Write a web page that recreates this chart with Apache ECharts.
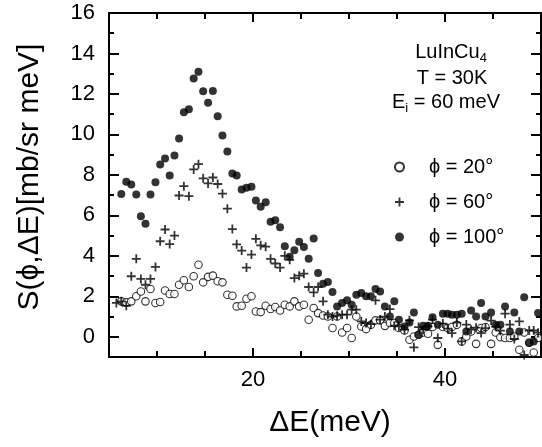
<!DOCTYPE html>
<html>
<head>
<meta charset="utf-8">
<script src="https://cdn.jsdelivr.net/npm/echarts@6/dist/echarts.min.js"></script>
<style>
  html, body { margin: 0; padding: 0; background: #fff; }
  #chart { width: 542px; height: 447px; }
</style>
</head>
<body>
<div id="chart"></div>
<script>
// Energy transfer bins (meV)
const energy = [
  5.77, 6.28, 6.80, 7.32, 7.84, 8.32, 8.80, 9.32, 9.84, 10.33,
  10.84, 11.32, 11.82, 12.30, 12.80, 13.32, 13.82, 14.32, 14.81, 15.32,
  15.82, 16.32, 16.82, 17.33, 17.85, 18.30, 18.82, 19.32, 19.84, 20.30,
  20.80, 21.32, 21.83, 22.32, 22.82, 23.31, 23.82, 24.31, 24.81, 25.30,
  25.80, 26.32, 26.78, 27.30, 27.80, 28.28, 28.76, 29.28, 29.80, 30.28,
  30.76, 31.28, 31.78, 32.28, 32.76, 33.24, 33.74, 34.26, 34.72, 35.20,
  35.78, 36.30, 36.76, 37.25, 37.72, 38.23, 38.70, 39.25, 39.78, 40.28,
  40.72, 41.24, 41.74, 42.22, 42.72, 43.24, 43.76, 44.22, 44.80, 45.28,
  45.77, 46.26, 46.76, 47.22, 47.74, 48.25, 48.77, 49.24, 49.70
];

// S(phi, dE) in mb/sr meV for each scattering angle
const phi20 = [
  null, 1.75, 1.70, 1.75, 2.00, 2.24, 1.75, 2.36, 1.67, 1.72,
  2.29, 2.11, 2.11, 2.57, 2.79, 2.46, 2.99, 3.56, 2.69, 2.96,
  3.02, 2.74, 2.69, 2.08, 2.03, 1.50, 1.53, 1.88, 2.00, 1.25,
  1.22, 1.53, 1.37, 1.47, 1.30, 1.58, 1.50, 1.75, 1.50, 1.58,
  0.84, 1.42, 1.17, 1.05, 1.00, 0.43, 1.00, 0.21, 0.43, -0.06,
  1.00, 0.51, 0.38, 0.59, 0.81, 0.81, 0.54, 0.68, 0.68, 0.43,
  0.31, -0.15, 0.01, 0.10, 0.21, 0.15, 0.48, -0.40, 0.48, 0.43,
  0.48, 0.59, -0.23, 0.01, 0.26, -0.35, 0.43, 0.48, -0.35, 0.21,
  -0.02, -0.06, -0.06, 0.01, -0.64, 0.21, -0.28, -0.78, -0.06
];
const phi60 = [
  1.67, 1.75, 1.53, 2.99, 3.85, 2.86, 2.57, 2.86, 3.45, 4.72,
  5.30, 4.58, 5.00, 6.98, 7.44, 6.95, 8.27, 8.53, 7.83, 7.58,
  7.87, 7.55, 7.07, 6.33, 5.32, 4.57, 4.26, 3.42, 4.06, 4.84,
  4.52, 4.45, 3.85, 3.62, 3.42, 4.00, 3.80, 2.90, 3.02, 3.12,
  2.46, 2.19, 2.46, 1.75, 1.09, 1.00, 1.04, 1.09, 1.09, 1.34,
  1.34, 0.76, 0.68, 0.62, 1.80, 0.85, 1.00, 1.37, 0.55, 0.51,
  0.35, 0.81, -0.52, 0.48, 0.35, 0.51, 0.85, -0.06, 0.65, 0.40,
  0.18, 0.70, -0.23, 0.60, 0.35, 0.45, 0.18, 0.43, 0.80, 0.50,
  0.30, 1.14, 0.60, -0.11, 0.76, -0.90, 0.31, 0.31, 0.20
];
const phi100 = [
  null, 7.06, 7.66, 7.52, 7.03, 5.96, 5.59, 7.03, 7.64, 8.51,
  8.81, 7.97, 8.96, 9.80, 11.10, 11.24, 12.76, 13.10, 12.13, 11.57,
  12.14, 10.90, 9.95, 9.16, 8.07, 7.97, 7.28, 7.36, 7.41, 6.73,
  6.42, 6.65, 5.68, 5.76, 5.41, 4.47, 3.95, 4.27, 4.69, 4.44,
  3.85, 4.85, 3.15, 2.62, 2.71, 2.21, 1.50, 1.67, 1.80, 1.58,
  2.08, 2.16, 2.00, 2.00, 2.36, 2.24, 1.50, 1.00, 1.75, 0.84,
  0.51, 0.71, 1.20, 0.10, 0.54, 0.54, 0.97, 0.59, 1.14, 1.14,
  1.09, 1.09, 1.14, 0.26, 1.30, 1.00, 1.67, 1.00, 1.20, 0.59,
  0.59, 1.50, 0.26, 1.20, 0.26, 1.95, -0.31, -0.23, 1.17
];

const seriesNames = ['\u03d5 = 20\u00b0', '\u03d5 = 60\u00b0', '\u03d5 = 100\u00b0'];

// Tick positions
const xMajorTicks = [20, 40];
const xMinorTicks = [10, 15, 25, 30, 35, 45];
const yMajorTicks = [0, 2, 4, 6, 8, 10, 12, 14, 16];
const yMinorTicks = [1, 3, 5, 7, 9, 11, 13, 15];

const FONT = '"Liberation Sans", Arial, Helvetica, "DejaVu Sans", sans-serif';
const X_MIN = 5, X_MAX = 50, Y_MIN = -1, Y_MAX = 16;

function pairs(values) {
  const out = [];
  values.forEach((v, i) => { if (v !== null) out.push([energy[i], v]); });
  return out;
}

const gridRect = { left: 109, top: 13, right: 1, bottom: 90, containLabel: false };
const lineStyle = { color: '#000', width: 2 };

function xAxisDef(gridIndex, position, ticks, len, withLine, withLabels) {
  return {
    type: 'value', gridIndex, position, min: X_MIN, max: X_MAX,
    axisLine: { show: withLine, onZero: false, lineStyle },
    axisTick: { show: true, inside: true, length: len, customValues: ticks, lineStyle: { color: '#000', width: 2 } },
    axisLabel: withLabels
      ? { show: true, customValues: ticks, margin: 12, fontSize: 22, color: '#000', fontFamily: FONT }
      : { show: false },
    splitLine: { show: false }
  };
}
function yAxisDef(gridIndex, position, ticks, len, withLine, withLabels) {
  return {
    type: 'value', gridIndex, position, min: Y_MIN, max: Y_MAX,
    axisLine: { show: withLine, onZero: false, lineStyle },
    axisTick: { show: true, inside: true, length: len, customValues: ticks, lineStyle: { color: '#000', width: 2 } },
    axisLabel: withLabels
      ? { show: true, customValues: ticks, margin: 14, fontSize: 22, color: '#000', fontFamily: FONT }
      : { show: false },
    splitLine: { show: false }
  };
}

const xBottom = xAxisDef(0, 'bottom', xMajorTicks, 9, true, true);
xBottom.name = '\u0394E(meV)';
xBottom.nameLocation = 'middle';
xBottom.nameGap = 51;
xBottom.nameTextStyle = { fontSize: 30, color: '#000', fontFamily: FONT, padding: [0, 0, 0, 10] };

const yLeft = yAxisDef(0, 'left', yMajorTicks, 10, true, true);
yLeft.name = 'S(\u03d5,\u0394E)[mb/sr meV]';
yLeft.nameLocation = 'middle';
yLeft.nameGap = 64;
yLeft.nameTextStyle = { fontSize: 30, color: '#000', fontFamily: FONT, padding: [0, 0, 0, 16] };

// Cross-shaped marker drawn as a filled outline
const plusSymbol = 'path://M4,0 L6,0 L6,4 L10,4 L10,6 L6,6 L6,10 L4,10 L4,6 L0,6 L0,4 L4,4 Z';

const option = {
  backgroundColor: '#fff',
  animation: false,
  grid: [Object.assign({}, gridRect), Object.assign({}, gridRect)],
  xAxis: [
    xBottom,
    xAxisDef(0, 'top', xMajorTicks, 9, true, false),
    xAxisDef(1, 'bottom', xMinorTicks, 6, false, false),
    xAxisDef(1, 'top', xMinorTicks, 6, false, false)
  ],
  yAxis: [
    yLeft,
    yAxisDef(0, 'right', yMajorTicks, 10, true, false),
    yAxisDef(1, 'left', yMinorTicks, 5, false, false),
    yAxisDef(1, 'right', yMinorTicks, 5, false, false)
  ],
  legend: {
    orient: 'vertical', left: 389, top: 151,
    itemWidth: 9, itemHeight: 9, itemGap: 13,
    data: seriesNames,
    selectedMode: false,
    textStyle: { fontSize: 20, color: '#000', fontFamily: FONT, lineHeight: 22, padding: [0, 0, 0, 20] }
  },
  graphic: [
    {
      type: 'text', x: 451, y: 39,
      style: {
        text: 'LuInCu{s|4}', fill: '#000', fontSize: 20, fontFamily: FONT, lineHeight: 26,
        align: 'center', verticalAlign: 'top',
        rich: { s: { fontSize: 13, fontFamily: FONT, lineHeight: 14, verticalAlign: 'bottom', fill: '#000' } }
      }
    },
    {
      type: 'text', x: 452, y: 65,
      style: { text: 'T = 30K', fill: '#000', fontSize: 20, fontFamily: FONT, lineHeight: 26, align: 'center', verticalAlign: 'top' }
    },
    {
      type: 'text', x: 446, y: 89,
      style: {
        text: 'E{s|i} = 60 meV', fill: '#000', fontSize: 20, fontFamily: FONT, lineHeight: 26,
        align: 'center', verticalAlign: 'top',
        rich: { s: { fontSize: 13, fontFamily: FONT, lineHeight: 14, verticalAlign: 'bottom', fill: '#000' } }
      }
    }
  ],
  series: [
    {
      name: seriesNames[0], type: 'scatter', xAxisIndex: 0, yAxisIndex: 0,
      symbol: 'circle', symbolSize: 7.5,
      itemStyle: { color: '#fff', borderColor: '#000', borderWidth: 1.1 },
      data: pairs(phi20)
    },
    {
      name: seriesNames[1], type: 'scatter', xAxisIndex: 0, yAxisIndex: 0,
      symbol: plusSymbol, symbolSize: 9,
      itemStyle: { color: '#000' },
      data: pairs(phi60)
    },
    {
      name: seriesNames[2], type: 'scatter', xAxisIndex: 0, yAxisIndex: 0,
      symbol: 'circle', symbolSize: 8,
      itemStyle: { color: '#000' },
      data: pairs(phi100)
    }
  ]
};

const chart = echarts.init(document.getElementById('chart'), null, { renderer: 'canvas' });
chart.setOption(option);
</script>
</body>
</html>
